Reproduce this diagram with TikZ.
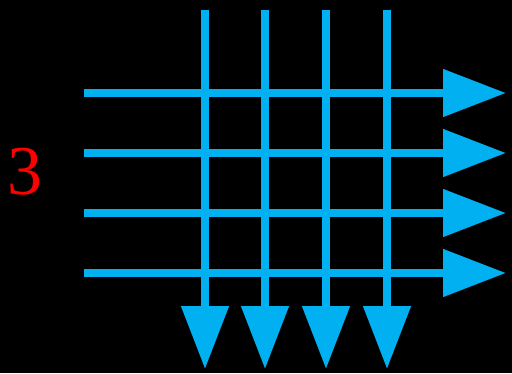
\documentclass[tikz,border=0pt]{standalone}
\usepackage{fontspec}
\setmainfont{Liberation Serif}
\usetikzlibrary{arrows.meta}
\definecolor{gridblue}{HTML}{00B0F0}

\begin{document}
\begin{tikzpicture}[x=1pt, y=-1pt,
    flow/.style={draw=gridblue, line width=8pt,
      -{Triangle[length=63pt, width=46pt, fill=gridblue]}}]
    \fill[black] (0,0) rectangle (512,373);
    \useasboundingbox (0,0) rectangle (512,373);

    % rows
    \foreach \y in {93, 153, 213, 273} {
      \coordinate (row-start-\y) at (84, \y);
      \coordinate (row-end-\y) at (506, \y);
      \draw[flow] (row-start-\y) -- (row-end-\y);
    }
    % columns
    \foreach \x in {205, 265, 326, 387} {
      \coordinate (col-start-\x) at (\x, 10);
      \coordinate (col-end-\x) at (\x, 369);
      \draw[flow] (col-start-\x) -- (col-end-\x);
    }

    \node[text=red, font=\fontsize{70}{70}\selectfont, inner sep=0pt] (count) at (25, 172) {3};
  \end{tikzpicture}
\end{document}
